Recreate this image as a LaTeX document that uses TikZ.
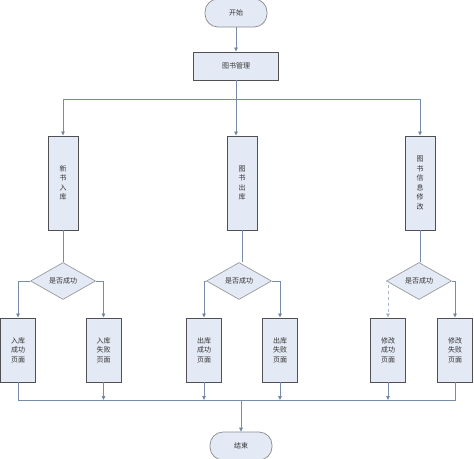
\documentclass[tikz,border=0pt]{standalone}
\usepackage{fontspec}
\newfontfamily\cjk{Noto Sans CJK SC}
\usepackage{tikz}
\usetikzlibrary{arrows.meta,shapes.geometric,calc}
\definecolor{BoxFill}{RGB}{228,234,245}
\definecolor{BoxLine}{RGB}{80,80,84}
\definecolor{LinkGray}{RGB}{118,140,168}
\definecolor{TipBlue}{RGB}{74,98,130}

\tikzset{
  proc/.style={rectangle,draw=BoxLine,line width=0.9pt,fill=BoxFill,inner sep=0pt,
    align=center,text=black!80,font=\cjk\fontsize{7}{9.5}\selectfont},
  term/.style={proc,line width=0.7pt,draw=black!45,rounded corners=13pt,minimum width=62pt,minimum height=28pt},
  decide/.style={diamond,draw=black!40,line width=0.7pt,fill=BoxFill,inner sep=0pt,
    minimum width=65pt,minimum height=37pt,text=black!80,font=\cjk\fontsize{7}{9}\selectfont},
  link/.style={draw=LinkGray,line width=0.8pt},
  tip/.style={-{Triangle[length=4pt,width=3.6pt,fill=TipBlue]}}
}

\begin{document}
\begin{tikzpicture}[x=1pt,y=-1pt]
  \useasboundingbox (0,0) rectangle (474,458);
  \node[term] (start) at (236,13) {开始};
  \node[proc,minimum width=85pt,minimum height=28pt] (mgmt) at (236,66) {图书管理};
  \coordinate (split) at (236,99);

  \node[proc,minimum width=30pt,minimum height=94pt] (b1) at (63,183) {新\\书\\入\\库};
  \node[proc,minimum width=30pt,minimum height=94pt] (b2) at (242,183) {图\\书\\出\\库};
  \node[proc,minimum width=30pt,minimum height=94pt] (b3) at (420,183) {图\\书\\信\\息\\修\\改};

  \foreach \i/\x in {1/63,2/239,3/419} {
    \node[decide] (d\i) at (\x,281) {是否成功};
  }

  \node[proc,minimum width=35pt,minimum height=64pt] (s1) at (18,350) {入库\\成功\\页面};
  \node[proc,minimum width=35pt,minimum height=64pt] (f1) at (103.5,350) {入库\\失败\\页面};
  \node[proc,minimum width=35pt,minimum height=64pt] (s2) at (204,350) {出库\\成功\\页面};
  \node[proc,minimum width=35pt,minimum height=64pt] (f2) at (280,350) {出库\\失败\\页面};
  \node[proc,minimum width=35pt,minimum height=64pt] (s3) at (388,350) {修改\\成功\\页面};
  \node[proc,minimum width=35pt,minimum height=64pt] (f3) at (455,350) {修改\\失败\\页面};

  \coordinate (join) at (241,400);
  \node[term] (end) at (241,446) {结束};

  \draw[link,tip] (start) -- (mgmt);
  \draw[link] (mgmt) -- (split);
  \draw[link,tip] (split) -| (b1);
  \draw[link,tip] (split) -| (b3);
  \draw[link,tip] (mgmt.south) -- (mgmt.south |- b2.north);

  \foreach \i in {1,2,3} {
    \draw[link] (b\i.south) -- (b\i.south |- d\i.north);
    \draw[link,tip] (d\i.east) -| (f\i);
  }
  \draw[link,tip] (d1.west) -| (s1);
  \draw[link,tip] (d2.west) -| (s2);
  \draw[link,tip,dashed,draw=LinkGray!60] (d3.west) -| (s3);

  \draw[link] (s1.south) |- (join);
  \draw[link] (f3.south) |- (join);
  \foreach \n in {f1,s2,f2,s3}
    \draw[link,tip] (\n.south) -- (\n.south |- join);
  \draw[link,tip] (join) -- (end);
\end{tikzpicture}
\end{document}
